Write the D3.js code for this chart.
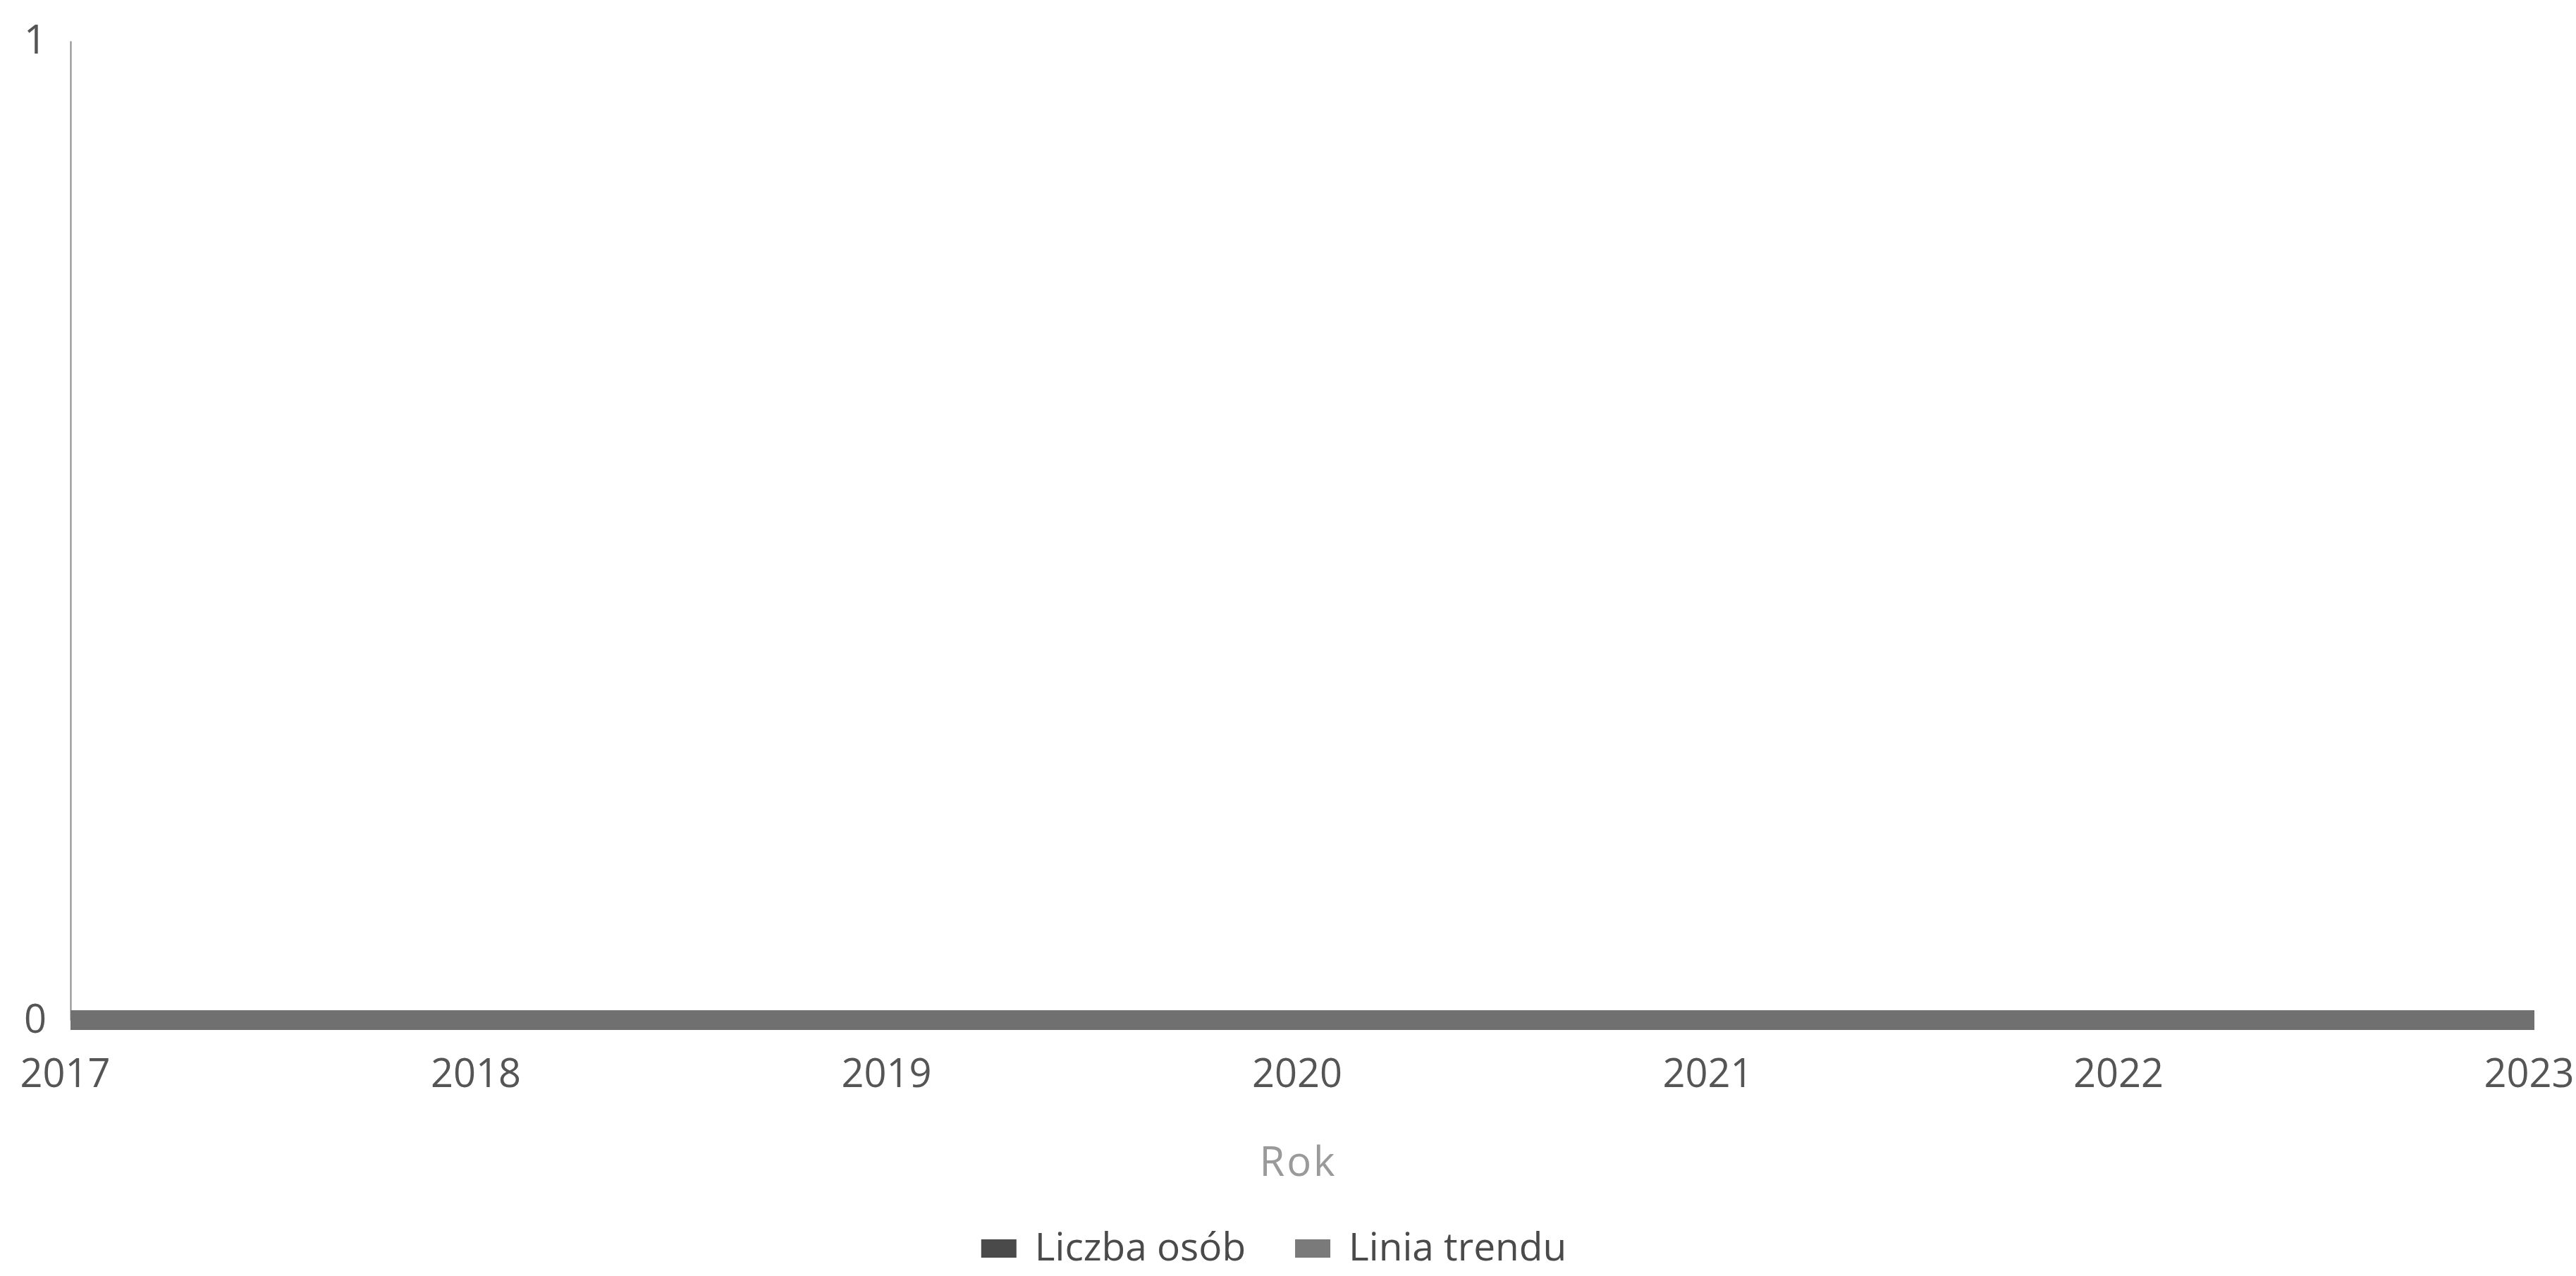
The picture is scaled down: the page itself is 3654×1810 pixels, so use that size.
<!DOCTYPE html>
<html>
<head>
<meta charset="utf-8">
<script src="https://cdn.jsdelivr.net/npm/d3@7"></script>
<style>
  html, body { margin: 0; padding: 0; background: #fff; }
  svg { display: block; font-family: "Open Sans", "DejaVu Sans", sans-serif; }
</style>
</head>
<body>
<svg id="chart" width="3654" height="1810"></svg>
<script>
const years = [2017, 2018, 2019, 2020, 2021, 2022, 2023];
const liczbaOsob = [0, 0, 0, 0, 0, 0, 0];
const liniaTrendu = [0, 0, 0, 0, 0, 0, 0];
const yTicks = [0, 1];
const seriesNames = ["Liczba osób", "Linia trendu"];
const seriesColors = ["#666666", "#7a7a7a"];
const xTitle = "Rok";

const svg = d3.select("#chart");
const W = 3654, H = 1810;
const m = { left: 100, right: 59, top: 58, bottom: 363 };

const x = d3.scaleLinear().domain([d3.min(years), d3.max(years)]).range([m.left, W - m.right]);
const y = d3.scaleLinear().domain([0, 1]).range([H - m.bottom, m.top]);

// Y axis
const yAxis = svg.append("g")
  .attr("transform", `translate(${m.left},0)`)
  .call(d3.axisLeft(y).tickValues(yTicks).tickFormat(d3.format("d")).tickSize(0).tickSizeOuter(0).tickPadding(34));
yAxis.select(".domain").attr("stroke", "#8a8a8a").attr("stroke-width", 2);
yAxis.selectAll("text").attr("font-size", 56).attr("fill", "#555").attr("font-family", "Open Sans");

// Series lines
const line = d3.line().x((d, i) => x(years[i])).y(d => y(d));
svg.append("path").datum(liczbaOsob)
  .attr("d", line).attr("fill", "none")
  .attr("stroke", seriesColors[0]).attr("stroke-width", 28).attr("stroke-linecap", "butt");
svg.append("path").datum(liniaTrendu)
  .attr("d", line).attr("fill", "none")
  .attr("stroke", seriesColors[1]).attr("stroke-width", 28).attr("stroke-opacity", 0.5)
  .attr("stroke-linecap", "butt");

// X axis
const xAxis = svg.append("g")
  .attr("transform", `translate(0,${y(0)})`)
  .call(d3.axisBottom(x).tickValues(years).tickFormat(d3.format("d")).tickSize(0).tickPadding(55));
xAxis.select(".domain").remove();
xAxis.selectAll("text").attr("font-size", 56).attr("fill", "#555").attr("dx", -8).attr("font-family", "Open Sans");

// X title
svg.append("text")
  .attr("x", (m.left + W - m.right) / 2 - 6)
  .attr("y", 1668)
  .attr("text-anchor", "middle")
  .attr("font-size", 58)
  .attr("letter-spacing", 3)
  .attr("fill", "#9a9a9a")
  .text(xTitle);

// Legend
const legend = svg.append("g");
const items = legend.selectAll("g").data(seriesNames).join("g");
items.append("rect").attr("width", 50).attr("height", 26).attr("y", -30)
  .attr("fill", (d, i) => i === 0 ? "#4a4a4a" : "#7a7a7a");
items.append("text").attr("x", 76).attr("font-size", 55).attr("fill", "#4a4a4a").text(d => d);
let offset = 0;
items.each(function () {
  d3.select(this).attr("transform", `translate(${offset},0)`);
  offset += this.getBBox().width + 70;
});
const totalW = offset - 70;
legend.attr("transform", `translate(${1807 - totalW / 2},1788)`);
</script>
</body>
</html>
